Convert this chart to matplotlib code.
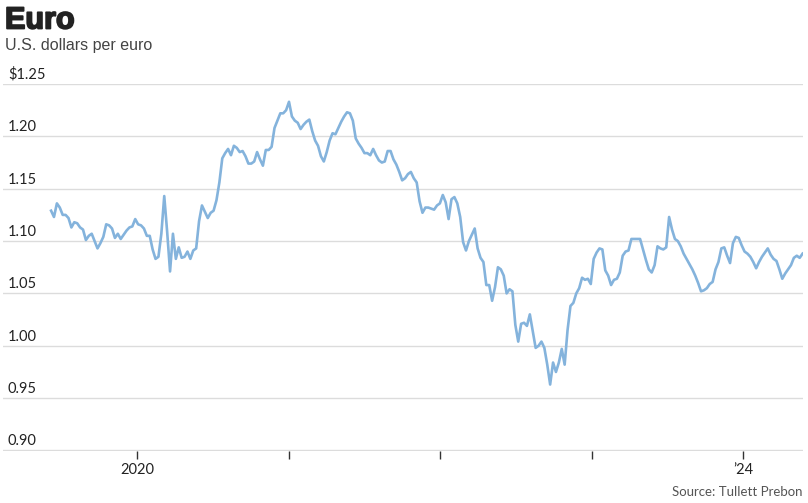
import matplotlib
matplotlib.use("Agg")
import matplotlib.pyplot as plt
import matplotlib.transforms as mtransforms
import matplotlib.patheffects as pe
import pandas as pd

# weekly readings (Fridays) of U.S. dollars per euro
start_date = "2019-06-07"
eur_usd = [
    1.129, 1.123, 1.136, 1.132, 1.125, 1.125, 1.122, 1.113, 1.118, 1.117,
    1.113, 1.111, 1.101, 1.105, 1.107, 1.100, 1.093, 1.098, 1.104, 1.116,
    1.115, 1.112, 1.103, 1.107, 1.102, 1.106, 1.110, 1.113, 1.114, 1.121,
    1.116, 1.115, 1.112, 1.105, 1.105, 1.092, 1.083, 1.085, 1.107, 1.143,
    1.109, 1.071, 1.107, 1.083, 1.094, 1.084, 1.085, 1.090, 1.083, 1.091,
    1.093, 1.119, 1.134, 1.128, 1.122, 1.127, 1.129, 1.139, 1.156, 1.179,
    1.184, 1.188, 1.182, 1.191, 1.189, 1.185, 1.186, 1.181, 1.174, 1.174,
    1.176, 1.185, 1.178, 1.172, 1.187, 1.187, 1.190, 1.208, 1.215, 1.222,
    1.222, 1.225, 1.233, 1.219, 1.215, 1.213, 1.207, 1.211, 1.214, 1.216,
    1.205, 1.196, 1.191, 1.181, 1.176, 1.185, 1.196, 1.203, 1.202, 1.208,
    1.214, 1.219, 1.223, 1.222, 1.215, 1.198, 1.193, 1.189, 1.184, 1.184,
    1.182, 1.188, 1.182, 1.177, 1.175, 1.176, 1.186, 1.186, 1.178, 1.173,
    1.166, 1.158, 1.160, 1.164, 1.166, 1.160, 1.156, 1.138, 1.127, 1.132,
    1.132, 1.131, 1.130, 1.134, 1.136, 1.144, 1.137, 1.121, 1.140, 1.142,
    1.136, 1.123, 1.099, 1.091, 1.100, 1.106, 1.112, 1.093, 1.084, 1.080,
    1.058, 1.058, 1.043, 1.056, 1.075, 1.073, 1.067, 1.050, 1.054, 1.052,
    1.020, 1.004, 1.021, 1.022, 1.019, 1.030, 1.014, 0.998, 1.000, 1.004,
    0.998, 0.982, 0.963, 0.984, 0.975, 0.984, 0.997, 0.982, 1.015, 1.038,
    1.041, 1.050, 1.055, 1.065, 1.063, 1.064, 1.059, 1.083, 1.089, 1.093,
    1.092, 1.072, 1.067, 1.058, 1.063, 1.064, 1.070, 1.086, 1.090, 1.091,
    1.102, 1.102, 1.102, 1.102, 1.092, 1.082, 1.073, 1.070, 1.077, 1.095,
    1.093, 1.092, 1.094, 1.123, 1.111, 1.102, 1.100, 1.095, 1.088, 1.083,
    1.078, 1.073, 1.067, 1.060, 1.052, 1.053, 1.055, 1.059, 1.061, 1.073,
    1.080, 1.093, 1.094, 1.086, 1.079, 1.098, 1.104, 1.103, 1.096, 1.090,
    1.088, 1.085, 1.080, 1.074, 1.080, 1.085, 1.089, 1.093, 1.087, 1.083,
    1.081, 1.073, 1.064, 1.069, 1.073, 1.077, 1.084, 1.086, 1.084, 1.088,
]

y_ticks = [0.90, 0.95, 1.00, 1.05, 1.10, 1.15, 1.20, 1.25]
y_tick_labels = ["0.90", "0.95", "1.00", "1.05", "1.10", "1.15", "1.20", "$1.25"]
x_tick_years = [2020, 2021, 2022, 2023, 2024]
x_tick_labels = ["2020", "", "", "", "\u201924"]

title = "Euro"
subtitle = "U.S. dollars per euro"
source = "Source: Tullett Prebon"

dates = pd.date_range(start=start_date, periods=len(eur_usd), freq="7D")

W, H = 808, 503
fig = plt.figure(figsize=(W / 100, H / 100), dpi=100)
fig.patch.set_facecolor("white")

ax = fig.add_axes([3 / W, (H - 450.5) / H, 800 / W, (450.5 - 84) / H])
ax.set_facecolor("none")

line_color = "#84b3dc"
grid_color = "#dcdcdc"
text_color = "#222222"

ax.plot(dates, eur_usd, color=line_color, lw=1.9, solid_joinstyle="round", zorder=3)

ax.set_xlim(pd.Timestamp("2019-02-11"), pd.Timestamp("2024-05-25"))
ax.set_ylim(0.90, 1.25)

for s in ax.spines.values():
    s.set_visible(False)

for v in y_ticks:
    ax.axhline(v, color=grid_color, lw=1.0, zorder=1)

ax.set_yticks([])
trans = mtransforms.blended_transform_factory(ax.transAxes, ax.transData)
for v, lab in zip(y_ticks, y_tick_labels):
    ax.annotate(lab, xy=(0, v), xycoords=trans, xytext=(3.6, 1.5),
                textcoords="offset points", ha="left", va="bottom",
                fontsize=10.5, family="Lato", color=text_color)

xt = [pd.Timestamp(f"{y}-01-01") for y in x_tick_years]
ax.set_xticks(xt)
ax.set_xticklabels(x_tick_labels, family="Lato", fontsize=10.5, color=text_color)
ax.tick_params(axis="x", direction="out", length=6, width=1, color="#333333", pad=3)

fig.text(5 / W, 1 - 28.5 / H, title, fontsize=22, fontweight="bold",
         family="Liberation Sans", color="#222222", ha="left", va="baseline",
         path_effects=[pe.withStroke(linewidth=1.3, foreground="#222222")])
fig.text(5 / W, 1 - 50 / H, subtitle, fontsize=11.5, family="Liberation Sans",
         color="#444444", ha="left", va="baseline")
fig.text(803 / W, 1 - 496 / H, source, fontsize=9.5, family="Lato",
         color="#555555", ha="right", va="baseline")

fig.savefig("out.png", dpi=100)
